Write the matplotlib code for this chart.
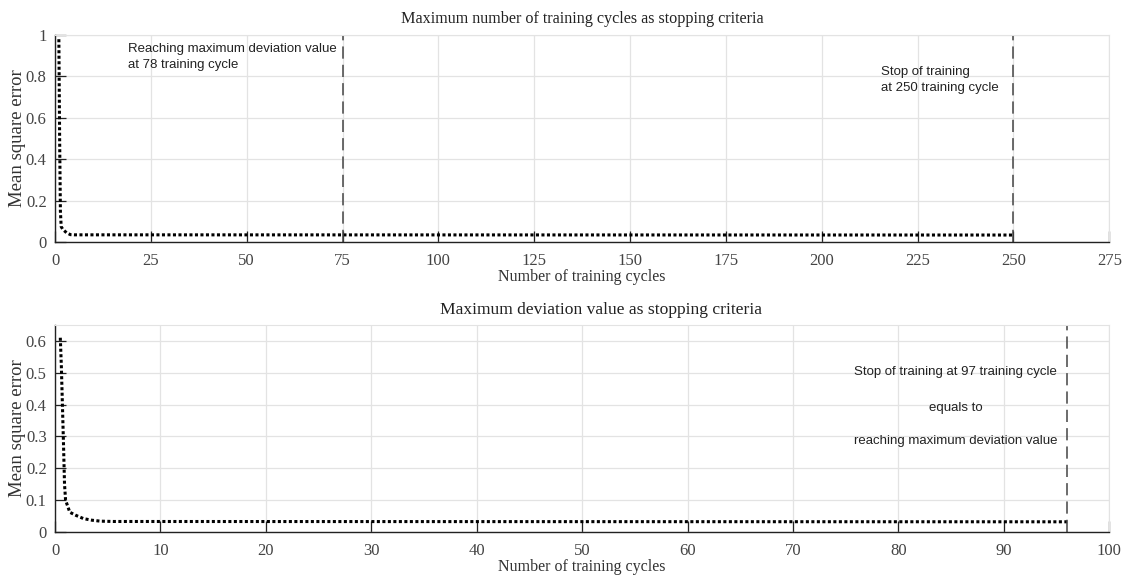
import matplotlib.pyplot as plt

# top panel: max number of training cycles
cycles_top = [1, 1.2, 1.4, 1.6, 2, 3, 4, 5, 250]
mse_top = [0.98, 0.5, 0.15, 0.075, 0.062, 0.045, 0.036, 0.035, 0.034]
xticks_top = [0, 25, 50, 75, 100, 125, 150, 175, 200, 225, 250, 275]
yticks_top = [0, 0.2, 0.4, 0.6, 0.8, 1]
vlines_top = [75, 250]

# bottom panel: max deviation value
cycles_bot = [0.5, 0.6, 0.7, 0.8, 0.9, 1.0, 1.4, 2, 2.7, 3.5, 4.3, 5.5, 96]
mse_bot = [0.61, 0.52, 0.4, 0.28, 0.15, 0.1, 0.062, 0.052, 0.042, 0.037, 0.034, 0.033, 0.032]
xticks_bot = [0, 10, 20, 30, 40, 50, 60, 70, 80, 90, 100]
yticks_bot = [0, 0.1, 0.2, 0.3, 0.4, 0.5, 0.6]
vlines_bot = [96]

serif = 'Liberation Serif'
sans = 'Liberation Sans'
grid_c = '#e3e3e3'


def style_axes(ax, xticks, yticks, xlim, ylim):
    ax.set_xlim(*xlim)
    ax.set_ylim(*ylim)
    ax.set_xticks(xticks)
    ax.set_yticks(yticks)
    ax.set_xticklabels([str(t) for t in xticks], fontfamily=serif, fontsize=12, color='#444444')
    ax.set_yticklabels([('%g' % t) for t in yticks], fontfamily=serif, fontsize=12, color='#444444')
    ax.grid(True, color=grid_c, linewidth=0.9)
    ax.set_axisbelow(True)
    ax.tick_params(direction='in', length=8, width=0.9, color='#222222')
    ax.tick_params(axis='x', pad=8)
    ax.tick_params(axis='y', pad=6)
    for s in ['top', 'right']:
        ax.spines[s].set_color(grid_c)
    for s in ['left', 'bottom']:
        ax.spines[s].set_color('#222222')
        ax.spines[s].set_linewidth(1.0)
    ax.set_xlabel('Number of training cycles', fontfamily=serif, fontsize=11.5, color='#333333', labelpad=0)
    ax.set_ylabel('Mean square error', fontfamily=serif, fontsize=13.5, color='#333333')
    ax.yaxis.set_label_coords(-0.028, 0.5)


fig = plt.figure(figsize=(11.3, 5.75), dpi=100)

ax1 = fig.add_axes([0.0487, 0.579, 0.933, 0.36])
style_axes(ax1, xticks_top, yticks_top, (0, 275), (0, 1))
ax1.plot(cycles_top, mse_top, color='black', linestyle=(0, (1, 0.8)), linewidth=2.2)
for v in vlines_top:
    ax1.axvline(v, color='#444444', linestyle=(0, (8, 4)), linewidth=1.1)
ax1.text(19, 0.96, 'Reaching maximum deviation value\nat 78 training cycle',
         fontfamily=sans, fontsize=9.5, color='#222222', va='top', linespacing=1.4)
ax1.text(215.5, 0.85, 'Stop of training\nat 250 training cycle',
         fontfamily=sans, fontsize=9.5, color='#222222', va='top', linespacing=1.4)
ax1.set_title('Maximum number of training cycles as stopping criteria',
              fontfamily=serif, fontsize=11.6, color='#222222', pad=9)

ax2 = fig.add_axes([0.0487, 0.0748, 0.933, 0.36])
style_axes(ax2, xticks_bot, yticks_bot, (0, 100), (0, 0.65))
ax2.plot(cycles_bot, mse_bot, color='black', linestyle=(0, (1, 0.8)), linewidth=2.2)
for v in vlines_bot:
    ax2.axvline(v, color='#444444', linestyle=(0, (8, 4)), linewidth=1.1)
notes_bot = ['Stop of training at 97 training cycle', 'equals to', 'reaching maximum deviation value']
note_y = [0.502, 0.39, 0.285]
for t, y in zip(notes_bot, note_y):
    ax2.text(85.4, y, t, fontfamily=sans, fontsize=9.5, color='#222222', ha='center', va='center')
ax2.set_title('Maximum deviation value as stopping criteria',
              fontfamily=serif, fontsize=12.6, color='#222222', pad=8, x=0.518)

fig.savefig('out.png', dpi=100)
